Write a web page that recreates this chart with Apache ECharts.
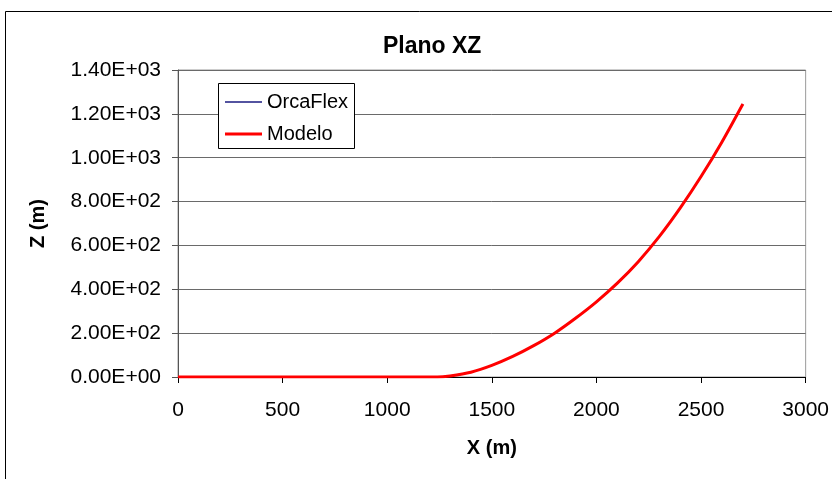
<!DOCTYPE html>
<html>
<head>
<meta charset="utf-8">
<script src="https://cdn.jsdelivr.net/npm/echarts@6/dist/echarts.min.js"></script>
<style>
html,body{margin:0;padding:0;background:#fff;}
#chart{width:832px;height:479px;}
</style>
</head>
<body>
<div id="chart"></div>
<script>
// Data
const xValues   = [0, 1240, 1300, 1400, 1500, 1600, 1700, 1800, 1900, 2000, 2100, 2200, 2300, 2400, 2500, 2600, 2700];
const orcaflexZ = [0, 0,    5,    22,   53,   94,   143,  200,  268,  343,  428,  526,  640,  770,  914,  1072, 1245];
const modeloZ   = [0, 0,    5,    22,   53,   94,   143,  200,  268,  343,  428,  526,  640,  770,  914,  1072, 1245];
const seriesNames = ['OrcaFlex', 'Modelo'];
const titleText = 'Plano XZ';
const xAxisName = 'X (m)';
const yAxisName = 'Z (m)';

const FONT = '"Liberation Sans", Arial, sans-serif';
const pairs = (xs, ys) => xs.map((x, i) => [x, ys[i]]);
function sci(v) {
  const s = Number(v).toExponential(2);
  const m = s.match(/^(-?[\d.]+)e([+-])(\d+)$/);
  let e = m[3]; if (e.length < 2) e = '0' + e;
  return m[1] + 'E' + m[2] + e;
}
const legendText = {fontFamily: FONT, fontSize: 20, color: '#000'};

const chart = echarts.init(document.getElementById('chart'), null, {renderer: 'canvas'});
chart.setOption({
  animation: false,
  backgroundColor: '#fff',
  textStyle: {fontFamily: FONT},
  title: {
    text: titleText, left: 378, top: 30,
    textStyle: {fontFamily: FONT, fontSize: 23, fontWeight: 'bold', color: '#000'}
  },
  graphic: [
    {
      type: 'rect', silent: true, z: -1,
      shape: {x: 5.5, y: 11.5, width: 900, height: 600},
      style: {fill: 'none', stroke: '#000', lineWidth: 1}
    },
    {
      type: 'rect', silent: true, z: 3,
      shape: {x: 218.5, y: 83.5, width: 136, height: 65},
      style: {fill: '#fff', stroke: '#000', lineWidth: 1}
    }
  ],
  legend: [
    {
      data: [{name: seriesNames[0], icon: 'rect', itemStyle: {color: '#1a1a80'}}],
      left: 225, top: 92, padding: 0, z: 5,
      itemWidth: 37, itemHeight: 1.5,
      textStyle: legendText
    },
    {
      data: [{name: seriesNames[1], icon: 'rect', itemStyle: {color: '#ff0000'}}],
      left: 225, top: 124, padding: 0, z: 5,
      itemWidth: 37, itemHeight: 3,
      textStyle: legendText
    }
  ],
  grid: {
    left: 178, right: 26, top: 70, bottom: 102,
    show: true, borderColor: '#9a9a9a', borderWidth: 1, backgroundColor: '#fff'
  },
  xAxis: {
    type: 'value', min: 0, max: 3000, interval: 500,
    name: xAxisName, nameLocation: 'middle', nameGap: 61,
    nameTextStyle: {fontFamily: FONT, fontSize: 20, fontWeight: 'bold', color: '#000'},
    axisLine: {onZero: false, lineStyle: {color: '#000', width: 1}},
    axisTick: {show: true, length: 6, lineStyle: {color: '#000'}},
    axisLabel: {fontFamily: FONT, fontSize: 21, color: '#000', margin: 23, formatter: v => String(v)},
    splitLine: {show: false}
  },
  yAxis: {
    type: 'value', min: 0, max: 1400, interval: 200,
    name: yAxisName, nameLocation: 'middle', nameGap: 130,
    nameTextStyle: {fontFamily: FONT, fontSize: 20, fontWeight: 'bold', color: '#000'},
    axisLine: {show: true, lineStyle: {color: '#555', width: 1}},
    axisTick: {show: true, length: 6, lineStyle: {color: '#555'}},
    axisLabel: {fontFamily: FONT, fontSize: 21, color: '#000', margin: 17, formatter: sci},
    splitLine: {show: true, lineStyle: {color: '#6a6a6a', width: 1}}
  },
  series: [
    {
      name: seriesNames[0], type: 'line', symbol: 'none', smooth: 0.3,
      data: pairs(xValues, orcaflexZ),
      lineStyle: {color: '#1a1a80', width: 1.5}, itemStyle: {color: '#1a1a80'}
    },
    {
      name: seriesNames[1], type: 'line', symbol: 'none', smooth: 0.3,
      data: pairs(xValues, modeloZ),
      lineStyle: {color: '#ff0000', width: 3}, itemStyle: {color: '#ff0000'}
    }
  ]
});
</script>
</body>
</html>
